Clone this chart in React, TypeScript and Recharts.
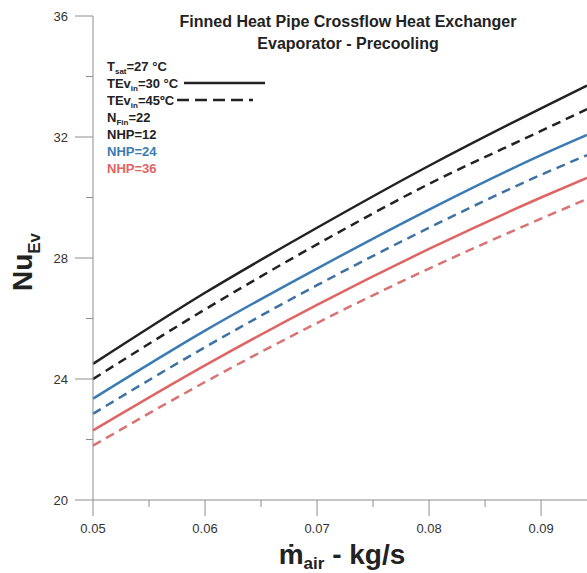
import { CartesianGrid, Line, LineChart, XAxis, YAxis } from "recharts"

// mass flow of air, kg/s
const mdot = [0.05, 0.06, 0.07, 0.08, 0.09, 0.0941]

// Nu_Ev, TEv_in = 30 °C (solid) and 45 °C (dashed)
const nhp12at30 = [24.5, 26.85, 29.0, 31.05, 32.95, 33.7]
const nhp12at45 = [24.0, 26.3, 28.45, 30.45, 32.2, 32.92]
const nhp24at30 = [23.35, 25.6, 27.65, 29.6, 31.4, 32.07]
const nhp24at45 = [22.85, 25.05, 27.1, 29.0, 30.75, 31.4]
const nhp36at30 = [22.3, 24.45, 26.45, 28.3, 30.0, 30.65]
const nhp36at45 = [21.8, 23.9, 25.85, 27.65, 29.3, 29.95]

const xTicks = [0.05, 0.055, 0.06, 0.065, 0.07, 0.075, 0.08, 0.085, 0.09]
const yTicks = [20, 22, 24, 26, 28, 30, 32, 34, 36]

const data = mdot.map((m, i) => ({
  m,
  a30: nhp12at30[i],
  a45: nhp12at45[i],
  b30: nhp24at30[i],
  b45: nhp24at45[i],
  c30: nhp36at30[i],
  c45: nhp36at45[i],
}))

const FONT = "'Liberation Sans', Arial, Helvetica, sans-serif"
const AXIS = "#8e8e8e"
const BLACK = "#222222"
const BLUE = "#3b7bb3"
const RED = "#df6565"

function YTick(props: any) {
  const { x, y, payload } = props
  const ax = x + 25
  const major = payload.value % 4 === 0
  return (
    <g>
      <line x1={ax - (major ? 18 : 7)} x2={ax} y1={y} y2={y} stroke={AXIS} />
      {major && (
        <text x={x} y={y} dy="0.355em" textAnchor="end" fontSize={13} fill="#333" fontFamily={FONT}>
          {payload.value}
        </text>
      )}
    </g>
  )
}

function XTick(props: any) {
  const { x, y, payload } = props
  const ay = y - 24
  const major = Math.round(payload.value * 1000) % 10 === 0
  return (
    <g>
      <line x1={x} x2={x} y1={ay} y2={ay + (major ? 16 : 7)} stroke={AXIS} />
      {major && (
        <text x={x} y={y} dy="0.71em" textAnchor="middle" fontSize={13} fill="#333" fontFamily={FONT}>
          {payload.value.toFixed(2)}
        </text>
      )}
    </g>
  )
}

const rows = 17

export default function App() {
  return (
    <div style={{ position: "absolute", left: 0, top: 0, width: 587, height: 573, background: "#fff" }}>
      <LineChart width={587} height={573} data={data} margin={{ top: 16, right: 0, left: 0, bottom: 0 }}>
        <CartesianGrid stroke="none" />
        <XAxis
          dataKey="m"
          type="number"
          domain={[0.05, 0.0941]}
          ticks={xTicks}
          interval={0}
          height={73}
          tickSize={16}
          tickMargin={8}
          tickLine={false}
          axisLine={{ stroke: AXIS }}
          tick={XTick}
        />
        <YAxis
          type="number"
          domain={[20, 36]}
          ticks={yTicks}
          interval={0}
          width={93}
          tickSize={18}
          tickMargin={7}
          tickLine={false}
          axisLine={{ stroke: AXIS }}
          tick={YTick}
        />
        <Line type="monotone" dataKey="a30" stroke={BLACK} strokeWidth={2.5} dot={false} isAnimationActive={false} />
        <Line type="monotone" dataKey="a45" stroke={BLACK} strokeWidth={2.5} strokeDasharray="9 6" dot={false} isAnimationActive={false} />
        <Line type="monotone" dataKey="b30" stroke={BLUE} strokeWidth={2.5} dot={false} isAnimationActive={false} />
        <Line type="monotone" dataKey="b45" stroke="#3e72a3" strokeWidth={2.5} strokeDasharray="9 6" dot={false} isAnimationActive={false} />
        <Line type="monotone" dataKey="c30" stroke={RED} strokeWidth={2.5} dot={false} isAnimationActive={false} />
        <Line type="monotone" dataKey="c45" stroke="#d97373" strokeWidth={2.5} strokeDasharray="9 6" dot={false} isAnimationActive={false} />
      </LineChart>

      <svg
        width={587}
        height={573}
        style={{ position: "absolute", left: 0, top: 0, pointerEvents: "none" }}
        fontFamily={FONT}
      >
        <text x={348} y={27} textAnchor="middle" fontSize={16} fontWeight="bold" fill="#222">
          Finned Heat Pipe Crossflow Heat Exchanger
        </text>
        <text x={348} y={49} textAnchor="middle" fontSize={16} fontWeight="bold" fill="#222">
          Evaporator - Precooling
        </text>

        <g fontSize={13} fontWeight="bold" fill="#222">
          <text x={107} y={71}>
            T<tspan fontSize={8} dy={3}>sat</tspan>
            <tspan dy={-3}>=27 °C</tspan>
          </text>
          <text x={107} y={71 + rows}>
            TEv<tspan fontSize={8} dy={3}>in</tspan>
            <tspan dy={-3}>=30 °C</tspan>
          </text>
          <text x={107} y={71 + rows * 2}>
            TEv<tspan fontSize={8} dy={3}>in</tspan>
            <tspan dy={-3}>=45ºC</tspan>
          </text>
          <text x={107} y={71 + rows * 3}>
            N<tspan fontSize={8} dy={3}>Fin</tspan>
            <tspan dy={-3}>=22</tspan>
          </text>
          <text x={107} y={71 + rows * 4}>NHP=12</text>
          <text x={107} y={71 + rows * 5} fill={BLUE}>NHP=24</text>
          <text x={107} y={71 + rows * 6} fill={RED}>NHP=36</text>
        </g>
        <line x1={184} x2={265} y1={83} y2={83} stroke={BLACK} strokeWidth={2.5} />
        <line x1={177} x2={253} y1={100} y2={100} stroke={BLACK} strokeWidth={2.5} strokeDasharray="12 6" />

        <text
          transform="translate(32,262) rotate(-90)"
          textAnchor="middle"
          fontSize={28}
          fontWeight="bold"
          fill="#222"
        >
          Nu<tspan fontSize={17} dy={8}>Ev</tspan>
        </text>

        <text x={342} y={564} textAnchor="middle" fontSize={28} fontWeight="bold" fill="#222">
          ṁ<tspan fontSize={17} dy={5}>air</tspan>
          <tspan dy={-5}> - kg/s</tspan>
        </text>
      </svg>
    </div>
  )
}
